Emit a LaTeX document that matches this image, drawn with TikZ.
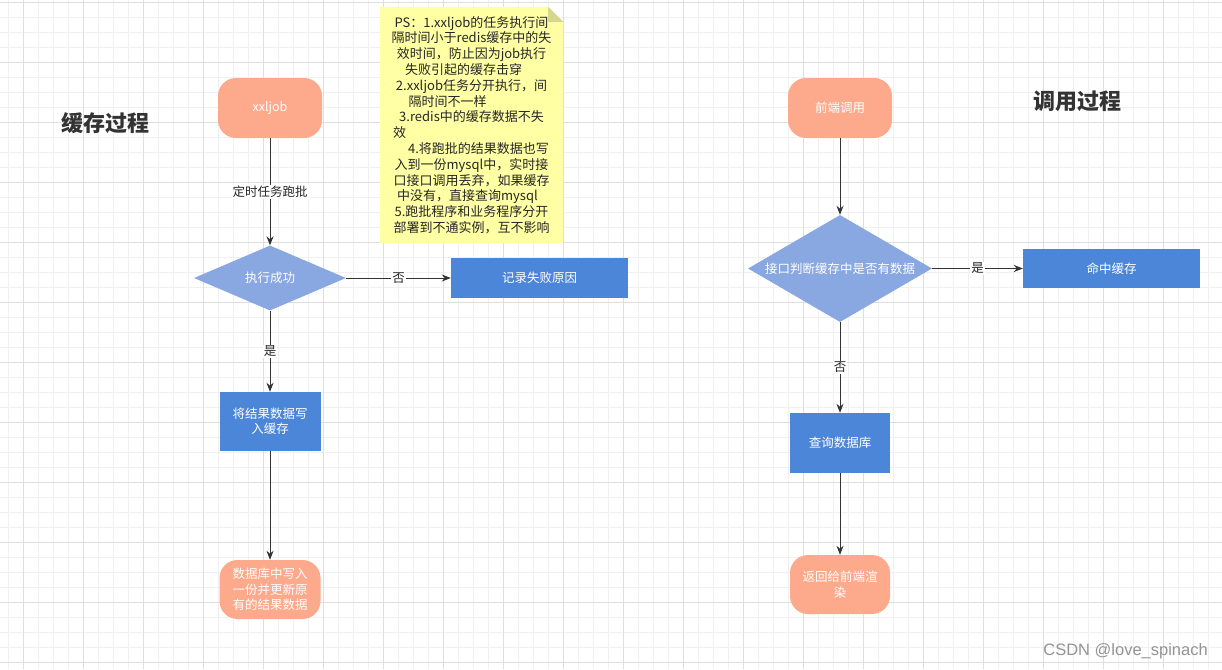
\documentclass[tikz,border=0pt]{standalone}
\usepackage{fontspec}
\setmainfont{Noto Sans CJK SC}
\newfontfamily\markfont{Liberation Sans}
\usepackage{tikz}
\usetikzlibrary{shapes,arrows.meta,positioning,backgrounds}
\definecolor{termfill}{RGB}{252,169,140}
\definecolor{decfill}{RGB}{137,167,224}
\definecolor{procfill}{RGB}{76,134,216}
\definecolor{notefill}{RGB}{255,255,164}
\definecolor{notefold}{RGB}{214,214,140}
\definecolor{linecol}{RGB}{51,51,51}
\definecolor{gridminor}{RGB}{240,240,240}
\definecolor{gridmajor}{RGB}{222,222,222}
\tikzset{
    flowText/.style={
        font=\fontsize{12.5}{15.5}\selectfont,
        text=white,
        align=center,
        inner sep=0pt
    },
    termBox/.style={flowText, fill=termfill, rounded corners=18pt, minimum width=104pt, minimum height=60pt},
    procBox/.style={flowText, fill=procfill, minimum width=101pt, minimum height=59pt},
    decisionDiamond/.style={flowText, diamond, fill=decfill, minimum width=152pt, minimum height=65pt},
    flowArrow/.style={draw=linecol, line width=1pt, -{Stealth[length=9pt,width=7pt]}},
    edgeLabel/.style={font=\fontsize{12.5}{15}\selectfont, text=black!85, fill=white, inner sep=1pt},
    titleText/.style={font=\fontsize{22}{26}\selectfont\bfseries, text=black!80},
}

\begin{document}
\begin{tikzpicture}[x=1pt, y=-1pt,
    noteBox/.style={font=\fontsize{13}{15.8}\selectfont, text=black!85, align=center, inner sep=0pt, minimum width=183pt, minimum height=236pt}
]
    \useasboundingbox (0,0) rectangle (1222,669);

    % Canvas with grid
    \begin{scope}[on background layer]
        \fill[white] (0,0) rectangle (1222,669);
        \foreach \gx in {8,23,...,1222} \draw[gridminor, line width=0.8pt] (\gx,0) -- (\gx,669);
        \foreach \gy in {2,17,...,669} \draw[gridminor, line width=0.8pt] (0,\gy) -- (1222,\gy);
        \foreach \gx in {23,83,...,1222} \draw[gridmajor, line width=0.8pt] (\gx,0) -- (\gx,669);
        \foreach \gy in {2,62,...,669} \draw[gridmajor, line width=0.8pt] (0,\gy) -- (1222,\gy);
    \end{scope}

    % Titles
    \node[titleText] (cacheTitle) at (105,123) {缓存过程};
    \node[titleText] (callTitle) at (1077,101) {调用过程};

    % Cache process
    \node[termBox] (job) at (270,108) {xxljob};
    \node[decisionDiamond] (runOk) at (270,278) {\makebox[0pt]{执行成功}};
    \node[procBox, minimum width=177pt, minimum height=40pt] (failLog) at (539.5,278) {记录失败原因};
    \node[procBox] (writeCache) at (270,421.5) {将结果数据写\\入缓存};
    \node[termBox, minimum width=101pt, minimum height=59pt] (writeDb) at (270,589.5) {数据库中写入\\一份并更新原\\有的结果数据};

    \draw[flowArrow] (job) -- node[edgeLabel] {定时任务跑批} (runOk);
    \draw[flowArrow] (runOk) -- node[edgeLabel] {否} (failLog);
    \draw[flowArrow] (runOk) -- node[edgeLabel] {是} (writeCache);
    \draw[flowArrow] (writeCache) -- (writeDb);

    % Note
    \node[noteBox] (psNote) at (471.5,125) {PS：1.xxljob的任务执行间\\
        隔时间小于redis缓存中的失\\
        效时间，防止因为job执行\\
        失败引起的缓存击穿\rule{16pt}{0pt}\\
        2.xxljob任务分开执行，间\\
        隔时间不一样\rule{48pt}{0pt}\\
        3.redis中的缓存数据不失\\
        效\rule{144pt}{0pt}\\
        \rule{14pt}{0pt}4.将跑批的结果数据也写\\
        入到一份mysql中，实时接\\
        口接口调用丢弃，如果缓存\\
        中没有，直接查询mysql\rule{8pt}{0pt}\\
        5.跑批程序和业务程序分开\\
        部署到不通实例，互不影响};
    \begin{pgfonlayer}{background}
        \fill[notefill] (psNote.north west) -- ([xshift=-15pt]psNote.north east) -- ([yshift=-15pt]psNote.north east) -- (psNote.south east) -- (psNote.south west) -- cycle;
        \fill[notefold] ([xshift=-15pt]psNote.north east) -- ([xshift=-15pt,yshift=-15pt]psNote.north east) -- ([yshift=-15pt]psNote.north east) -- cycle;
    \end{pgfonlayer}

    % Call process
    \node[termBox] (front) at (840,108) {前端调用};
    \node[decisionDiamond, minimum width=184pt, minimum height=107pt] (hasData) at (840,268.5) {\makebox[0pt]{接口判断缓存中是否有数据}};
    \node[procBox, minimum width=177pt, minimum height=39pt] (hitCache) at (1111.5,268.5) {命中缓存};
    \node[procBox, minimum width=100pt, minimum height=60pt] (queryDb) at (840,443) {查询数据库};
    \node[termBox, minimum width=100pt, minimum height=59pt] (backFront) at (840,584.5) {返回给前端渲\\染};

    \draw[flowArrow] (front) -- (hasData);
    \draw[flowArrow] (hasData) -- node[edgeLabel] {是} (hitCache);
    \draw[flowArrow] (hasData) -- node[edgeLabel] {否} (queryDb);
    \draw[flowArrow] (queryDb) -- (backFront);

    % Watermark
    \node[anchor=east, font=\markfont\fontsize{16.5}{19}\selectfont, text=black!42, inner sep=0pt] (mark) at (1208,651) {CSDN @love\_spinach};

\end{tikzpicture}
\end{document}
